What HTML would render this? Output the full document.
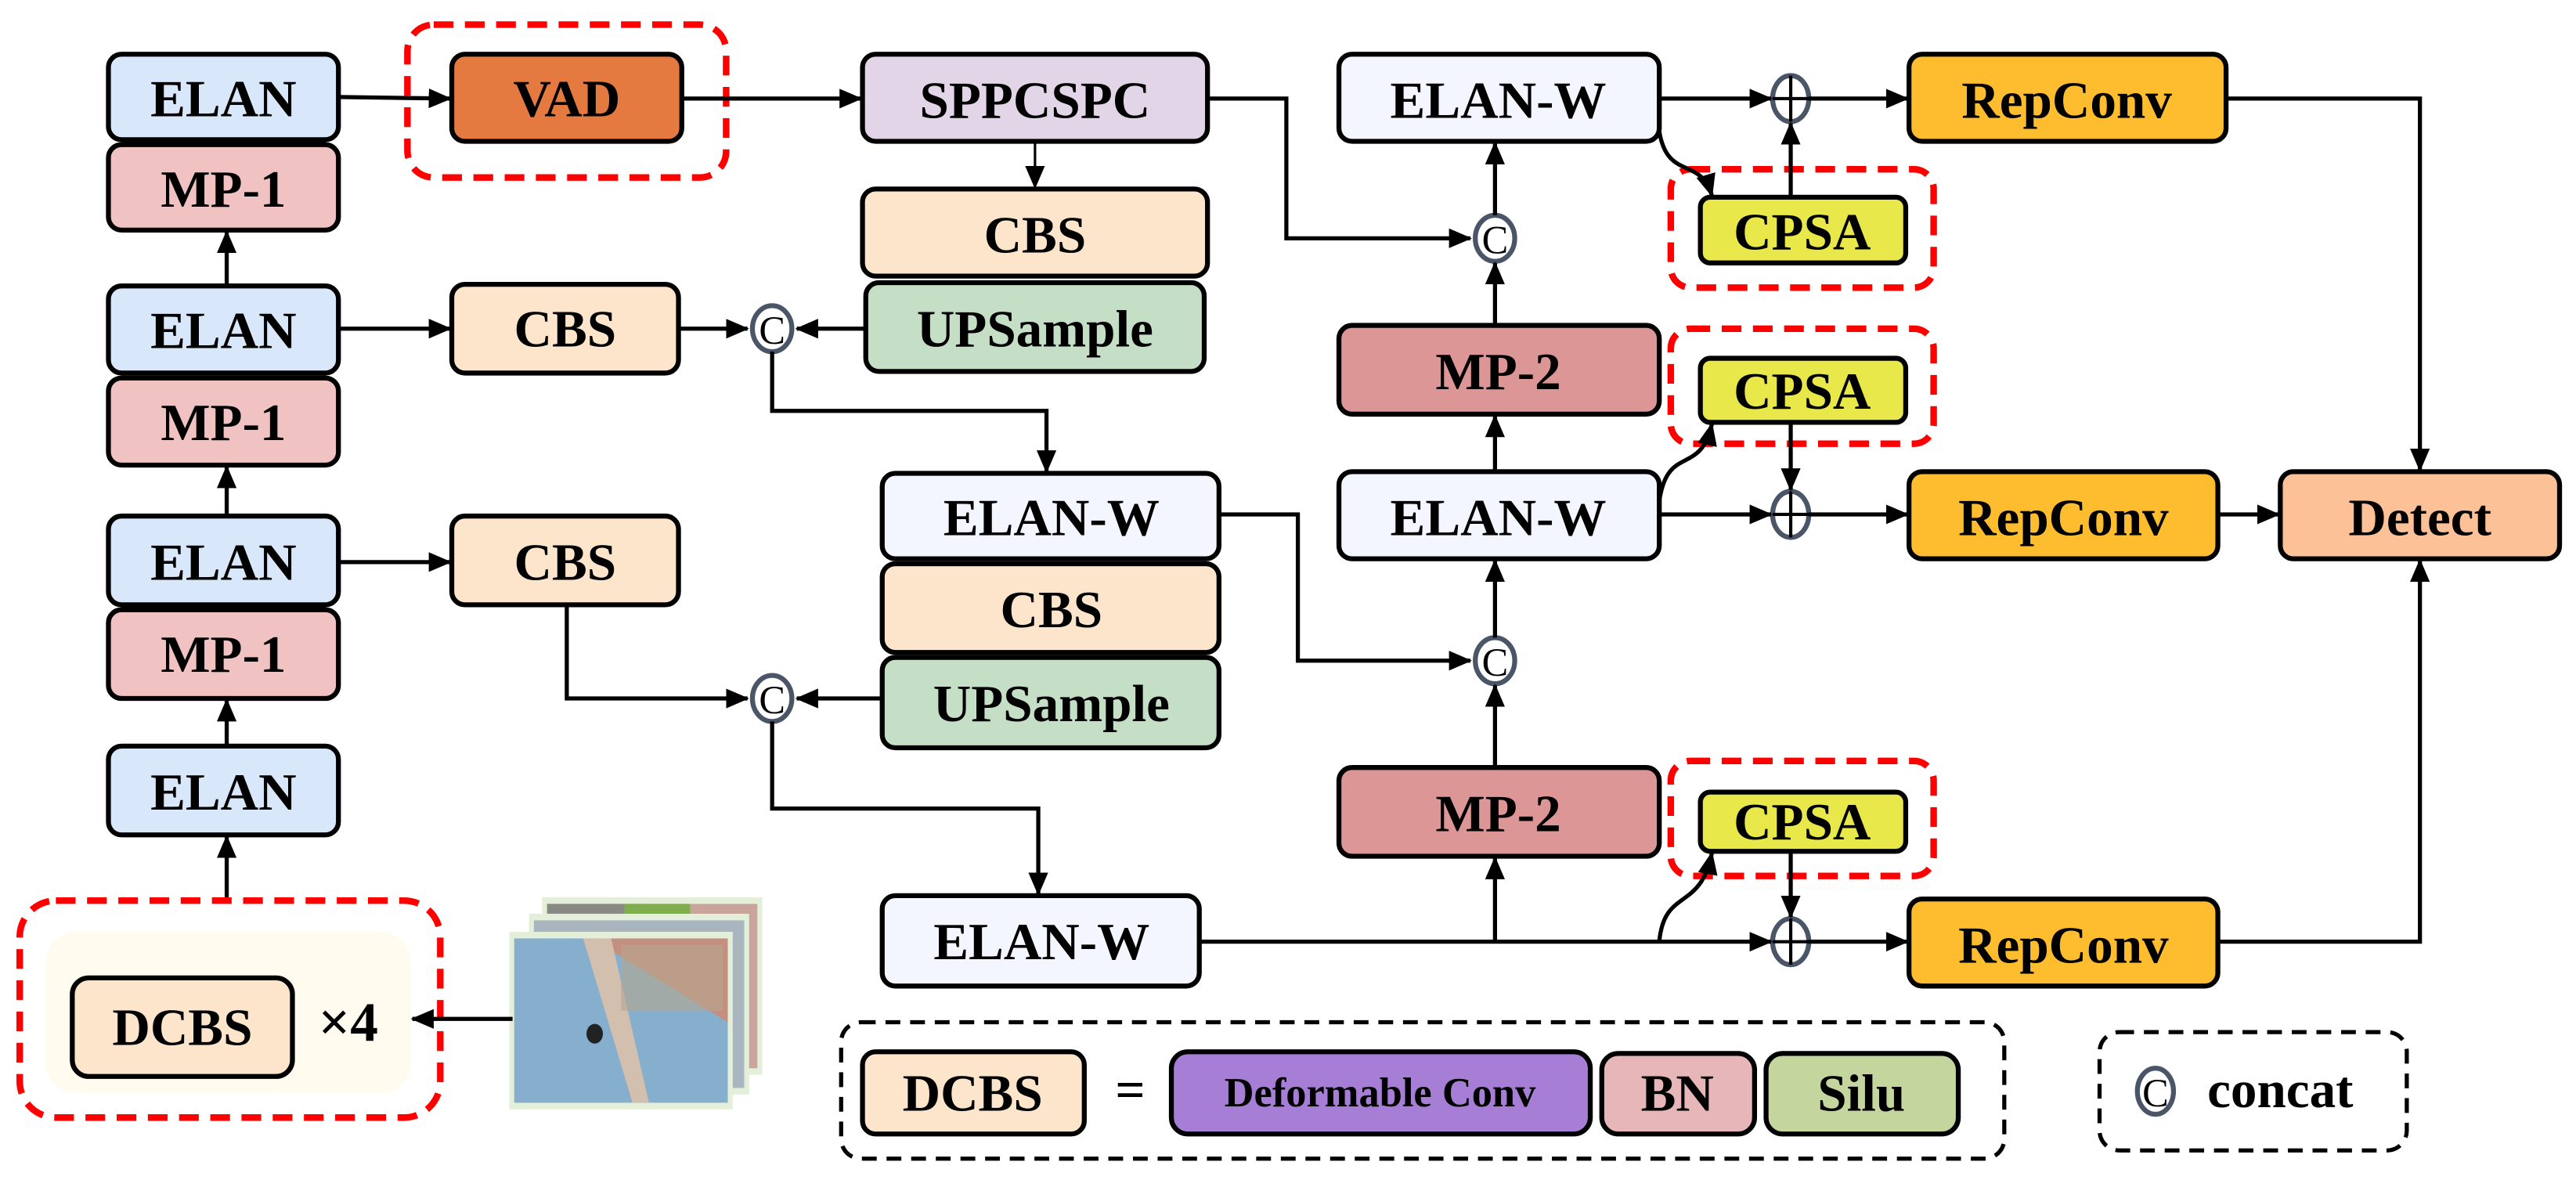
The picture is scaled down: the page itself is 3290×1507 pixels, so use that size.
<!DOCTYPE html>
<html><head><meta charset="utf-8"><style>
html,body{margin:0;padding:0;background:#fff;width:3290px;height:1507px;overflow:hidden}
svg{display:block}
svg text{font-family:"Liberation Serif","Noto Serif CJK SC",serif;font-weight:bold;text-anchor:middle;dominant-baseline:central;fill:#000}
.b{stroke:#000;stroke-width:3}
.l{stroke:#000;stroke-width:2.5;fill:none}
.rd{fill:none;stroke:#f00;stroke-width:4;stroke-dasharray:12 7}
.kd{fill:none;stroke:#000;stroke-width:2.5;stroke-dasharray:9 6}
.c{fill:#fff;stroke:#4a5568;stroke-width:3}
</style></head><body>
<svg width="3290" height="1507" viewBox="0 0 1568 718" preserveAspectRatio="none">
<defs><marker id="a" markerUnits="userSpaceOnUse" markerWidth="14" markerHeight="14" refX="13" refY="7" orient="auto"><path d="M0,1 L14,7 L0,13 Z" fill="#000"/></marker></defs>

<rect class="b" x="66" y="33" width="140" height="52" rx="8" fill="#d9e7fb"/><text x="136" y="60" font-size="32">ELAN</text>
<rect class="b" x="66" y="88" width="140" height="52" rx="8" fill="#f0c3c2"/><text x="136" y="115" font-size="32">MP-1</text>
<rect class="b" x="66" y="174" width="140" height="53" rx="8" fill="#d9e7fb"/><text x="136" y="201" font-size="32">ELAN</text>
<rect class="b" x="66" y="230" width="140" height="53" rx="8" fill="#f0c3c2"/><text x="136" y="257" font-size="32">MP-1</text>
<rect class="b" x="66" y="314" width="140" height="54" rx="8" fill="#d9e7fb"/><text x="136" y="342" font-size="32">ELAN</text>
<rect class="b" x="66" y="371" width="140" height="54" rx="8" fill="#f0c3c2"/><text x="136" y="398" font-size="32">MP-1</text>
<rect class="b" x="66" y="454" width="140" height="54" rx="8" fill="#d9e7fb"/><text x="136" y="482" font-size="32">ELAN</text>
<line class="l" x1="138" y1="173" x2="138" y2="141" marker-end="url(#a)"/>
<line class="l" x1="138" y1="314" x2="138" y2="284" marker-end="url(#a)"/>
<line class="l" x1="138" y1="454" x2="138" y2="426" marker-end="url(#a)"/>
<line class="l" x1="138" y1="548" x2="138" y2="509" marker-end="url(#a)"/>

<rect class="rd" x="12" y="548" width="256" height="132" rx="22"/>
<rect x="28" y="567" width="222" height="98" rx="18" fill="#fffbef"/>
<rect class="b" x="44" y="595" width="134" height="60" rx="10" fill="#fde5cb"/><text x="111" y="625" font-size="32">DCBS</text>
<text x="212" y="622" font-size="34">×4</text>
<rect x="330" y="546" width="134" height="108" fill="#e3efd9"/><rect x="333" y="550" width="128" height="100" fill="#c9a49a"/><rect x="333" y="550" width="60" height="30" fill="#8a8a85"/><rect x="380" y="550" width="40" height="24" fill="#7fae4e"/>
<rect x="322" y="556" width="134" height="110" fill="#e3efd9"/><rect x="325" y="560" width="128" height="102" fill="#a9b6c0"/>
<rect x="310" y="567" width="136" height="108" fill="#e3efd9"/><rect x="313" y="571" width="130" height="100" fill="#86aecd"/>
<polygon points="313,571 443,571 443,622 360,571" fill="#c39080"/>
<polygon points="355,571 372,571 395,671 385,671" fill="#d3bfae"/>
<rect x="378" y="575" width="62" height="40" fill="#b5a78f" opacity="0.6"/>
<ellipse cx="362" cy="629" rx="5" ry="6" fill="#222"/>
<line class="l" x1="312" y1="620" x2="251" y2="620" marker-end="url(#a)"/>

<rect class="rd" x="248" y="15" width="194" height="93" rx="16"/>
<rect class="b" x="275" y="33" width="140" height="53" rx="8" fill="#e57a40"/><text x="345" y="60" font-size="32">VAD</text>
<line class="l" x1="206" y1="59" x2="274" y2="60" marker-end="url(#a)"/>
<line class="l" x1="415" y1="60" x2="524" y2="60" marker-end="url(#a)"/>

<rect class="b" x="525" y="33" width="210" height="53" rx="8" fill="#e2d5e8"/><text x="630" y="61" font-size="32">SPPCSPC</text>
<line class="l" x1="630" y1="86" x2="630" y2="114" marker-end="url(#a)" style="stroke-width:1.5"/>
<rect class="b" x="525" y="115" width="210" height="53" rx="8" fill="#fde5cb"/><text x="630" y="143" font-size="32">CBS</text>
<rect class="b" x="527" y="172" width="206" height="54" rx="8" fill="#c5dfc6"/><text x="630" y="200" font-size="32">UPSample</text>

<rect class="b" x="275" y="173" width="138" height="54" rx="8" fill="#fde5cb"/><text x="344" y="200" font-size="32">CBS</text>
<line class="l" x1="206" y1="200" x2="274" y2="200" marker-end="url(#a)"/>
<line class="l" x1="413" y1="200" x2="455" y2="200" marker-end="url(#a)"/>
<line class="l" x1="527" y1="200" x2="485" y2="200" marker-end="url(#a)"/>
<ellipse class="c" cx="470" cy="200" rx="12" ry="14"/><text x="470" y="201" font-size="24" style="font-weight:normal">C</text>
<polyline class="l" points="470,214 470,250 637,250 637,287" marker-end="url(#a)"/>

<rect class="b" x="537" y="288" width="205" height="52" rx="8" fill="#f3f6fe"/><text x="640" y="315" font-size="32">ELAN-W</text>
<rect class="b" x="537" y="343" width="205" height="54" rx="8" fill="#fde5cb"/><text x="640" y="371" font-size="32">CBS</text>
<rect class="b" x="537" y="400" width="205" height="55" rx="8" fill="#c5dfc6"/><text x="640" y="428" font-size="32">UPSample</text>

<rect class="b" x="275" y="314" width="138" height="54" rx="8" fill="#fde5cb"/><text x="344" y="342" font-size="32">CBS</text>
<line class="l" x1="206" y1="342" x2="274" y2="342" marker-end="url(#a)"/>
<polyline class="l" points="345,368 345,425 455,425" marker-end="url(#a)"/>
<line class="l" x1="537" y1="425" x2="485" y2="425" marker-end="url(#a)"/>
<ellipse class="c" cx="470" cy="425" rx="12" ry="14"/><text x="470" y="426" font-size="24" style="font-weight:normal">C</text>
<polyline class="l" points="470,439 470,492 632,492 632,544" marker-end="url(#a)"/>

<rect class="b" x="537" y="545" width="193" height="55" rx="8" fill="#f3f6fe"/><text x="634" y="573" font-size="32">ELAN-W</text>

<rect class="b" x="815" y="33" width="195" height="53" rx="8" fill="#f3f6fe"/><text x="912" y="61" font-size="32">ELAN-W</text>
<rect class="b" x="815" y="198" width="195" height="54" rx="8" fill="#dc9696"/><text x="912" y="226" font-size="32">MP-2</text>
<rect class="b" x="815" y="287" width="195" height="53" rx="8" fill="#f3f6fe"/><text x="912" y="315" font-size="32">ELAN-W</text>
<rect class="b" x="815" y="467" width="195" height="54" rx="8" fill="#dc9696"/><text x="912" y="495" font-size="32">MP-2</text>

<polyline class="l" points="735,60 783,60 783,145 895,145" marker-end="url(#a)"/>
<ellipse class="c" cx="910" cy="145" rx="12" ry="14"/><text x="910" y="146" font-size="24" style="font-weight:normal">C</text>
<line class="l" x1="910" y1="131" x2="910" y2="87" marker-end="url(#a)"/>
<line class="l" x1="910" y1="198" x2="910" y2="160" marker-end="url(#a)"/>
<line class="l" x1="910" y1="287" x2="910" y2="253" marker-end="url(#a)"/>

<polyline class="l" points="742,313 790,313 790,402 895,402" marker-end="url(#a)"/>
<ellipse class="c" cx="910" cy="402" rx="12" ry="14"/><text x="910" y="403" font-size="24" style="font-weight:normal">C</text>
<line class="l" x1="910" y1="388" x2="910" y2="341" marker-end="url(#a)"/>
<line class="l" x1="910" y1="467" x2="910" y2="417" marker-end="url(#a)"/>
<line class="l" x1="910" y1="573" x2="910" y2="522" marker-end="url(#a)"/>

<rect class="rd" x="1017" y="103" width="160" height="72" rx="12"/>
<rect class="b" x="1035" y="120" width="125" height="40" rx="6" fill="#e9e84a"/><text x="1097" y="141" font-size="32">CPSA</text>
<rect class="rd" x="1017" y="200" width="160" height="70" rx="12"/>
<rect class="b" x="1035" y="218" width="125" height="39" rx="6" fill="#e9e84a"/><text x="1097" y="238" font-size="32">CPSA</text>
<rect class="rd" x="1017" y="463" width="160" height="70" rx="12"/>
<rect class="b" x="1035" y="482" width="125" height="36" rx="6" fill="#e9e84a"/><text x="1097" y="500" font-size="32">CPSA</text>

<g class="c"><ellipse cx="1090" cy="60" rx="11" ry="14"/><ellipse cx="1090" cy="313" rx="11" ry="14"/><ellipse cx="1090" cy="573" rx="11" ry="14"/></g>
<g class="l" style="stroke-width:2"><line x1="1079" y1="60" x2="1101" y2="60"/><line x1="1090" y1="46" x2="1090" y2="74"/><line x1="1079" y1="313" x2="1101" y2="313"/><line x1="1090" y1="299" x2="1090" y2="327"/><line x1="1079" y1="573" x2="1101" y2="573"/><line x1="1090" y1="559" x2="1090" y2="587"/></g>

<line class="l" x1="1010" y1="60" x2="1078" y2="60" marker-end="url(#a)"/>
<line class="l" x1="1101" y1="60" x2="1161" y2="60" marker-end="url(#a)"/>
<line class="l" x1="1090" y1="120" x2="1090" y2="75" marker-end="url(#a)"/>
<path class="l" d="M1010,80 C1015,110 1035,95 1042,119" marker-end="url(#a)"/>

<line class="l" x1="1010" y1="313" x2="1078" y2="313" marker-end="url(#a)"/>
<line class="l" x1="1101" y1="313" x2="1161" y2="313" marker-end="url(#a)"/>
<line class="l" x1="1090" y1="257" x2="1090" y2="298" marker-end="url(#a)"/>
<path class="l" d="M1010,305 C1015,270 1035,290 1042,258" marker-end="url(#a)"/>

<line class="l" x1="730" y1="573" x2="1078" y2="573" marker-end="url(#a)"/>
<line class="l" x1="1101" y1="573" x2="1161" y2="573" marker-end="url(#a)"/>
<line class="l" x1="1090" y1="518" x2="1090" y2="558" marker-end="url(#a)"/>
<path class="l" d="M1010,573 C1013,540 1035,555 1042,519" marker-end="url(#a)"/>

<rect class="b" x="1162" y="33" width="193" height="53" rx="8" fill="#fdbd2f"/><text x="1258" y="61" font-size="32">RepConv</text>
<rect class="b" x="1162" y="287" width="188" height="53" rx="8" fill="#fdbd2f"/><text x="1256" y="315" font-size="32">RepConv</text>
<rect class="b" x="1162" y="547" width="188" height="53" rx="8" fill="#fdbd2f"/><text x="1256" y="575" font-size="32">RepConv</text>
<rect class="b" x="1388" y="287" width="170" height="53" rx="8" fill="#fdc197"/><text x="1473" y="315" font-size="32">Detect</text>
<polyline class="l" points="1355,60 1473,60 1473,286" marker-end="url(#a)"/>
<polyline class="l" points="1350,573 1473,573 1473,341" marker-end="url(#a)"/>
<line class="l" x1="1350" y1="313" x2="1387" y2="313" marker-end="url(#a)"/>

<rect class="kd" x="512" y="622" width="708" height="83" rx="12"/>
<rect class="b" x="525" y="640" width="135" height="50" rx="8" fill="#fde5cb"/><text x="592" y="665" font-size="32">DCBS</text>
<text x="688" y="663" font-size="32">=</text>
<rect class="b" x="713" y="640" width="255" height="50" rx="10" fill="#a77ed6"/><text x="840" y="665" font-size="25">Deformable Conv</text>
<rect class="b" x="975" y="641" width="93" height="49" rx="10" fill="#e6b6b8"/><text x="1021" y="665" font-size="32">BN</text>
<rect class="b" x="1075" y="641" width="117" height="49" rx="10" fill="#c4d59e"/><text x="1133" y="665" font-size="32">Silu</text>
<rect class="kd" x="1278" y="628" width="187" height="72" rx="12"/>
<ellipse class="c" cx="1312" cy="664" rx="11" ry="14"/><text x="1312" y="665" font-size="24" style="font-weight:normal">C</text>
<text x="1388" y="663" font-size="32">concat</text>
</svg>
</body></html>
